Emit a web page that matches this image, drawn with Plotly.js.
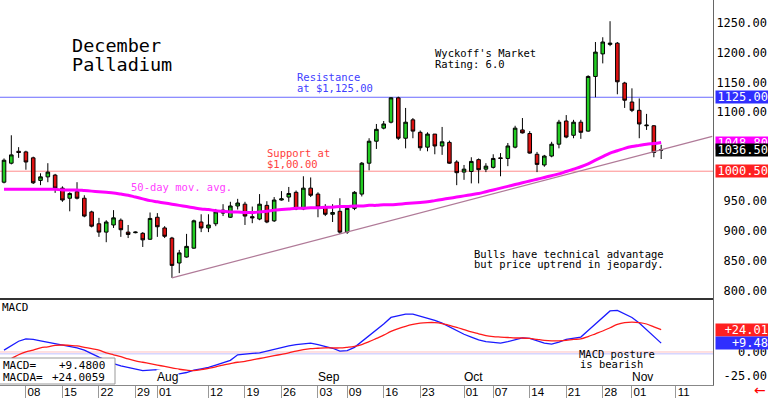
<!DOCTYPE html>
<html><head><meta charset="utf-8">
<script src="https://cdn.plot.ly/plotly-3.0.1.min.js"></script>
<style>html,body{margin:0;padding:0;background:#fff;}#chart{width:768px;height:398px;}</style>
</head><body><div id="chart"></div>
<script>
const dates = [
'2013-07-02','2013-07-03','2013-07-05','2013-07-08','2013-07-09','2013-07-10','2013-07-11','2013-07-12','2013-07-15','2013-07-16',
'2013-07-17','2013-07-18','2013-07-19','2013-07-22','2013-07-23','2013-07-24','2013-07-25','2013-07-26','2013-07-29','2013-07-30',
'2013-07-31','2013-08-01','2013-08-02','2013-08-05','2013-08-06','2013-08-07','2013-08-08','2013-08-09','2013-08-12','2013-08-13',
'2013-08-14','2013-08-15','2013-08-16','2013-08-19','2013-08-20','2013-08-21','2013-08-22','2013-08-23','2013-08-26','2013-08-27',
'2013-08-28','2013-08-29','2013-08-30','2013-09-03','2013-09-04','2013-09-05','2013-09-06','2013-09-09','2013-09-10','2013-09-11',
'2013-09-12','2013-09-13','2013-09-16','2013-09-17','2013-09-18','2013-09-19','2013-09-20','2013-09-23','2013-09-24','2013-09-25',
'2013-09-26','2013-09-27','2013-09-30','2013-10-01','2013-10-02','2013-10-03','2013-10-04','2013-10-07','2013-10-08','2013-10-09',
'2013-10-10','2013-10-11','2013-10-14','2013-10-15','2013-10-16','2013-10-17','2013-10-18','2013-10-21','2013-10-22','2013-10-23',
'2013-10-24','2013-10-25','2013-10-28','2013-10-29','2013-10-30','2013-10-31','2013-11-01','2013-11-04','2013-11-05','2013-11-06',
'2013-11-07'];
const futureDates = ['2013-11-08','2013-11-11','2013-11-12','2013-11-13','2013-11-14','2013-11-15','2013-11-18'];

const open = [982,1014,1034,1033,1023,985,991,994,972,955,
966,955,932,912,898,910,918,898,897,896,
886,923,905,888,846,856,871,915,905,912,
935,923,942,945,924,920,943,917,952,957,
965,937,972,962,940,928,933,898,938,962,
1014,1051,1073,1083,1124,1056,1087,1066,1041,1063,
1043,1049,1016,999,1000,1020,1004,1007,1023,1022,
1041,1070,1064,1029,1011,1026,1046,1085,1061,1083,
1068,1160,1198,1214,1216,1149,1117,1103,1077,1077,
1036];
const high = [1022,1061,1041,1035,1025,997,1014,996,975,965,
982,960,934,922,918,935,921,910,899,898,
931,930,908,890,868,895,919,928,928,937,
945,949,954,949,941,962,950,957,967,974,
968,992,990,965,945,945,955,942,967,1016,
1056,1080,1085,1125,1126,1107,1090,1069,1066,1063,
1075,1052,1019,1011,1024,1022,1014,1029,1031,1048,
1077,1090,1068,1033,1028,1050,1087,1095,1087,1087,
1162,1218,1226,1253,1218,1151,1140,1123,1097,1078,
1045];
const low = [980,1012,1023,1003,979,977,982,964,949,933,
953,923,906,890,881,905,890,888,896,873,
885,890,888,821,829,855,870,898,898,908,
925,922,936,910,913,918,913,915,951,949,
935,935,957,923,925,915,895,895,935,958,
1002,1038,1071,1081,1053,1039,1056,1035,1034,1029,
1028,1013,977,986,980,980,999,1005,992,1009,
1039,1064,1030,999,1008,1024,1039,1056,1056,1055,
1067,1125,1182,1211,1130,1107,1100,1056,1070,1024,
1021];
const close = [1019,1028,1032,1016,981,991,999,972,952,963,
955,925,908,898,915,922,902,894,898,885,
921,907,891,842,863,874,917,905,910,932,
930,942,947,925,922,945,915,952,954,963,
937,972,960,940,928,931,898,938,965,1014,
1051,1071,1080,1124,1056,1083,1068,1040,1063,1043,
1050,1014,998,1004,1017,1003,1009,1022,1022,1043,
1073,1065,1031,1012,1026,1046,1083,1058,1083,1066,
1160,1201,1218,1216,1151,1120,1103,1080,1078,1032,
1036.5];
const ma50 = [970,970,970,970,970,970,970,970,969,969,
969,968,967,966,965,964,962,960,957,954,
951,949,947,945,943,941,939,937,936,934,
933,932,932,931,931,932,933,935,936,937,
938,938,939,939,940,940,941,941,942,942,
943,943,944,944,945,946,947,948,949,951,
953,955,957,959,961,963,966,969,972,975,
978,981,984,987,990,993,996,1000,1004,1008,
1013,1019,1025,1031,1035,1039,1042,1044,1046,1047,
1048.8];
const macd = [2,7,11.5,14,13.5,12,10.5,9,7.5,5.5,
4.5,2,-2,-5.5,-9,-12.5,-15,-16.5,-18.5,-20,
-19.5,-19,-21,-22.5,-23.5,-22,-19.5,-18,-16.5,-14,
-11.5,-9,-3,-2,-1.5,-1,1,3,5,6.5,
8,9,9.5,8,6,4,1,1.5,5,11,
17,23,30,37,39,40.5,40.5,38.5,36.5,34,
31,27,23,19,16,13,11,10,9.6,11,
13,15,14.5,12,9.5,8.5,10.5,13.5,15,16,
23,30,38,44,44.5,41,37,31,24,17,
9.48];
const macdA = [-10,-7,-3,0,2,4.5,5.5,7,7.5,7,
6.5,5,3.5,2,-1,-3,-5,-7.5,-9.5,-11,
-12.5,-14,-15.5,-17,-18.5,-19.5,-20,-19,-17.5,-16,
-14,-12.5,-11,-10,-8.5,-7,-5.5,-4,-2.5,-1,
1,2.5,3.5,4,4.5,4.3,4.3,5,6,8,
11,14.5,18,22,25,27.5,29.5,31,31.5,31.5,
30.5,28.5,26.5,24,21.5,19.5,17.5,16.5,16,15.5,
15,15,14.5,13.5,12.5,12,12,12.5,13.5,14,
16.5,19.5,22.5,26,29.5,31.5,32,31.5,30,27,
24.0059];

const trendDates = ['2013-08-05','2013-11-18'];
const trendPrices = [821,1059];
const resistance = 1125;
const support = 1000.5;
const macdRefLines = [0,-2];

const tickDates = ['2013-07-08','2013-07-15','2013-07-22','2013-07-29','2013-08-01','2013-08-12','2013-08-19','2013-08-26','2013-09-03','2013-09-09','2013-09-16','2013-09-23','2013-10-01','2013-10-07','2013-10-14','2013-10-21','2013-10-28','2013-11-01','2013-11-11'];
const tickLabels = ['08','15','22','29','01','12','19','26','03','09','16','23','01','07','14','21','28','01','11'];
const monthDates = ['2013-08-01','2013-09-03','2013-10-01','2013-11-01'];
const monthLabels = ['Aug','Sep','Oct','Nov'];
const priceTicks = [800,850,900,950,1000,1050,1100,1150,1200,1250];
const macdTicks = [-25,0];

const NB = '\u00a0';
const pad = (s, n) => NB.repeat(Math.max(0, n - s.length)) + s;
const sgn = (v, d) => (v >= 0 ? '+' : '') + v.toFixed(d);

const W = 713, H = 385;
const MONO = 'DejaVu Sans Mono';
function T(text, xpx, ypx, opts) {
  return Object.assign({text, xref:'paper', yref:'paper', x:xpx/W, y:1-ypx/H,
    xanchor:'left', yanchor:'middle', showarrow:false,
    font:{family:MONO, size:10.5, color:'#000'}}, opts || {});
}
function valBox(v, txt, color, yref) {
  return {xref:'paper', x:1, xanchor:'left', xshift:2, yref:yref, y:v, yanchor:'middle',
    text:txt, showarrow:false, bgcolor:color, width:52, height:12, align:'right', borderpad:0,
    font:{family:MONO, size:12, color:'#fff'}};
}

const last = dates.length - 1;
const traces = [
  {type:'candlestick', x:dates, open:open, high:high, low:low, close:close, xaxis:'x', yaxis:'y',
   increasing:{line:{color:'#000', width:1}, fillcolor:'#22cc22'},
   decreasing:{line:{color:'#000', width:1}, fillcolor:'#dd1111'},
   hoverinfo:'skip', showlegend:false},
  {type:'scatter', mode:'lines', x:trendDates, y:trendPrices, xaxis:'x', yaxis:'y',
   line:{color:'#b07a98', width:1.3}, hoverinfo:'skip', showlegend:false},
  {type:'scatter', mode:'lines', x:dates, y:ma50, xaxis:'x', yaxis:'y',
   line:{color:'#ff00ff', width:3, shape:'spline'}, hoverinfo:'skip', showlegend:false},
  {type:'scatter', mode:'lines', x:dates, y:macd, xaxis:'x', yaxis:'y2',
   line:{color:'#1a1aff', width:1.3}, hoverinfo:'skip', showlegend:false},
  {type:'scatter', mode:'lines', x:dates, y:macdA, xaxis:'x', yaxis:'y2',
   line:{color:'#ff1a1a', width:1.3, shape:'spline'}, hoverinfo:'skip', showlegend:false}
];

const split = 1 - 299/H;
const shapes = [
  {type:'line', xref:'paper', x0:0, x1:1, yref:'y', y0:resistance, y1:resistance, line:{color:'#6a6aff', width:1}, layer:'below'},
  {type:'line', xref:'paper', x0:0, x1:1, yref:'y', y0:support, y1:support, line:{color:'#ff8c8c', width:1}, layer:'below'},
  {type:'line', xref:'paper', x0:0, x1:1, yref:'y2', y0:macdRefLines[0], y1:macdRefLines[0], line:{color:'#ffc0c0', width:1}, layer:'below'},
  {type:'line', xref:'paper', x0:0, x1:1, yref:'y2', y0:macdRefLines[1], y1:macdRefLines[1], line:{color:'#c0c0ff', width:1}, layer:'below'},
  {type:'line', xref:'paper', x0:0, x1:1, yref:'paper', y0:split, y1:split, line:{color:'#333', width:2}},
  {type:'rect', xref:'paper', yref:'paper', x0:-2/W, x1:115/W, y0:1-384/H, y1:1-358/H, line:{color:'#999', width:1}, fillcolor:'#fff'}
];

const annotations = [
  T('December', 70, 45, {font:{family:MONO, size:18.5, color:'#000'}}),
  T('Palladium', 70, 64, {font:{family:MONO, size:18.5, color:'#000'}}),
  T("Wyckoff's Market", 433, 53),
  T('Rating: 6.0', 433, 64),
  T('Resistance', 295, 77, {font:{family:MONO, size:10.5, color:'#4040ff'}}),
  T('at $1,125.00', 295, 88, {font:{family:MONO, size:10.5, color:'#4040ff'}}),
  T('Support at', 265, 153, {font:{family:MONO, size:10.5, color:'#ff4040'}}),
  T('$1,00.00', 265, 164, {font:{family:MONO, size:10.5, color:'#ff4040'}}),
  T('50-day mov. avg.', 129, 187, {font:{family:MONO, size:10.5, color:'#ff40ff'}}),
  T('Bulls have technical advantage', 472, 254),
  T('but price uptrend in jeopardy.', 472, 264),
  T('MACD posture', 577, 354),
  T('is bearish', 578, 364),
  T('MACD', 0, 307, {font:{family:MONO, size:11, color:'#000'}}),
  T('MACD=', 1, 365, {font:{family:MONO, size:11, color:'#000'}}),
  T(sgn(macd[last], 4), 107, 365, {xanchor:'right', font:{family:MONO, size:11, color:'#000'}}),
  T('MACDA=', 1, 377, {font:{family:MONO, size:11, color:'#000'}}),
  T(sgn(macdA[last], 4), 107, 377, {xanchor:'right', font:{family:MONO, size:11, color:'#000'}}),
  T('\u2190', 752, 390, {font:{family:'DejaVu Sans', size:14, color:'#ff0000'}}),
  valBox(resistance, resistance.toFixed(2), '#2f2fff', 'y'),
  valBox(support, support.toFixed(2), '#ff2020', 'y'),
  valBox(ma50[last], ma50[last].toFixed(2), '#ff00ff', 'y'),
  valBox(close[last], close[last].toFixed(2), '#000000', 'y'),
  valBox(macdA[last], sgn(macdA[last], 2), '#ff2020', 'y2'),
  valBox(macd[last], sgn(macd[last], 2), '#2f2fff', 'y2')
];
monthDates.forEach((d, i) => annotations.push({
  text: monthLabels[i], xref:'x', x:d, xanchor:'left', xshift:-1,
  yref:'paper', y:1-377/H, yanchor:'middle', showarrow:false, bgcolor:'#fff', borderpad:0,
  font:{family:'Liberation Sans', size:12, color:'#000'}
}));

const layout = {
  width:768, height:398,
  margin:{l:0, r:55, t:0, b:13, pad:0},
  paper_bgcolor:'#fff', plot_bgcolor:'#fff',
  showlegend:false, hovermode:false, dragmode:false,
  xaxis:{type:'category', categoryorder:'array', categoryarray:dates.concat(futureDates),
    range:[-0.55, 97.1], anchor:'y2', rangeslider:{visible:false},
    showgrid:false, zeroline:false, showline:true, linecolor:'#888', linewidth:1,
    ticks:'outside', ticklen:13, tickcolor:'#999', tickwidth:1,
    tickvals:tickDates, ticktext:tickLabels, ticklabelstandoff:-17, ticklabelshift:8,
    tickfont:{family:'Liberation Sans', size:11.5, color:'#000'}},
  yaxis:{domain:[split, 1], anchor:'x', side:'right', range:[785.4, 1288.7],
    showgrid:false, zeroline:false, showline:true, linecolor:'#666', linewidth:1, ticks:'',
    tickvals:priceTicks, ticktext:priceTicks.map(v => pad(v.toFixed(2), 7)),
    tickfont:{family:MONO, size:12, color:'#000'}},
  yaxis2:{domain:[0, split], anchor:'x', side:'right', range:[-35.4, 56.8],
    showgrid:false, zeroline:false, showline:true, linecolor:'#666', linewidth:1, ticks:'',
    tickvals:macdTicks, ticktext:macdTicks.map(v => pad(v.toFixed(2), 7)),
    tickfont:{family:MONO, size:12, color:'#000'}},
  shapes:shapes, annotations:annotations
};
Plotly.newPlot('chart', traces, layout, {staticPlot:true, displayModeBar:false});
</script></body></html>
